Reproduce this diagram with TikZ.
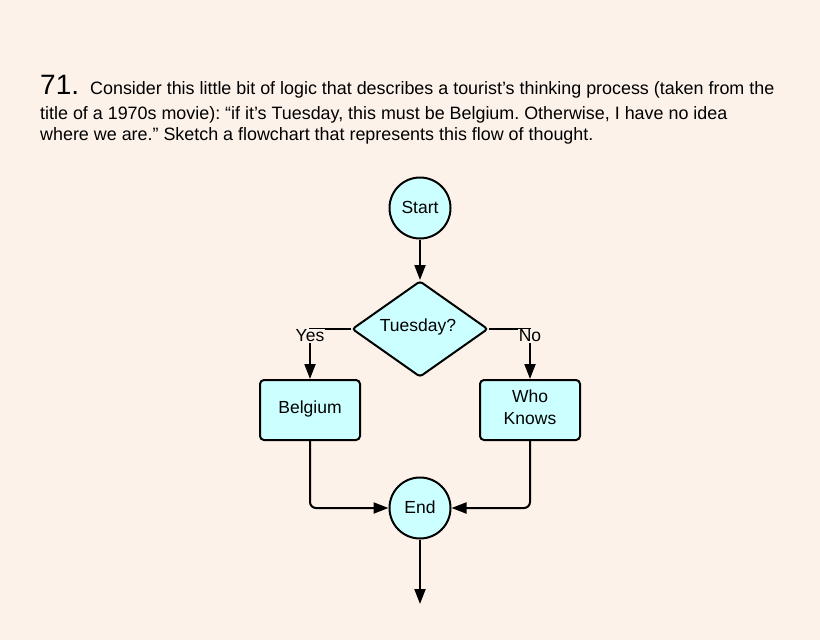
\documentclass[tikz,border=0pt]{standalone}
\usepackage{fontspec}
\setmainfont{Liberation Sans}
\usetikzlibrary{shapes.geometric,arrows.meta}
\definecolor{pagebg}{RGB}{252,242,234}
\definecolor{nodefill}{RGB}{204,255,255}
\frenchspacing
\begin{document}
\begin{tikzpicture}[x=1pt,y=-1pt,
  every node/.style={font=\fontsize{17.5}{22}\selectfont},
  flow/.style={draw=black,line width=2pt,fill=nodefill},
  term/.style={flow,circle,minimum size=61pt,inner sep=0pt},
  proc/.style={flow,rectangle,rounded corners=4pt,minimum width=100pt,minimum height=60pt,inner sep=0pt,align=center},
  decision/.style={flow,diamond,aspect=1.42,minimum width=136pt,minimum height=96pt,inner sep=0pt,rounded corners=3pt},
  conn/.style={line width=2pt,-{Triangle[length=15pt,width=11pt]}},
  lbl/.style={fill=pagebg,inner sep=1pt},
  para/.style={anchor=base west,inner sep=0pt,font=\fontsize{17.9}{21}\selectfont}]
\useasboundingbox[fill=pagebg] (0,0) rectangle (820,640);
% question text
\node[para,font=\fontsize{28}{30}\selectfont] (num) at (40,94) {71.};
\node[para] (l1) at (90,94) {Consider this little bit of logic that describes a tourist's thinking process (taken from the};
\node[para] (l2) at (40,119) {title of a 1970s movie): “if it’s Tuesday, this must be Belgium. Otherwise, I have no idea};
\node[para] (l3) at (40,140) {where we are.” Sketch a flowchart that represents this flow of thought.};
% flowchart
\node[term] (start) at (420,208) {};
\node (starttxt) at (420,207) {Start};
\node[decision] (tue) at (420,329) {};
\node (tuetxt) at (418,327) {Tuesday?};
\node[proc] (belg) at (310,410) {};
\node (belgtxt) at (310,409) {Belgium};
\node[proc] (who) at (530,410) {};
\node[align=center] (whotxt) at (530,407) {Who\\Knows};
\node[term] (end) at (420,508) {};
\node (endtxt) at (420,507) {End};
\coordinate (out) at (420,604);
\draw[conn] (start) -- (tue.north);
\draw[conn] (tue.west) -| (belg.north);
\draw[conn] (tue.east) -| (who.north);
\draw[conn,rounded corners=6pt] (belg.south) |- (end.west);
\draw[conn,rounded corners=6pt] (who.south) |- (end.east);
\draw[conn] (end) -- (out);
\node[lbl] (yes) at (310,336) {Yes};
\node[lbl] (no) at (530,336) {No};
\end{tikzpicture}
\end{document}
